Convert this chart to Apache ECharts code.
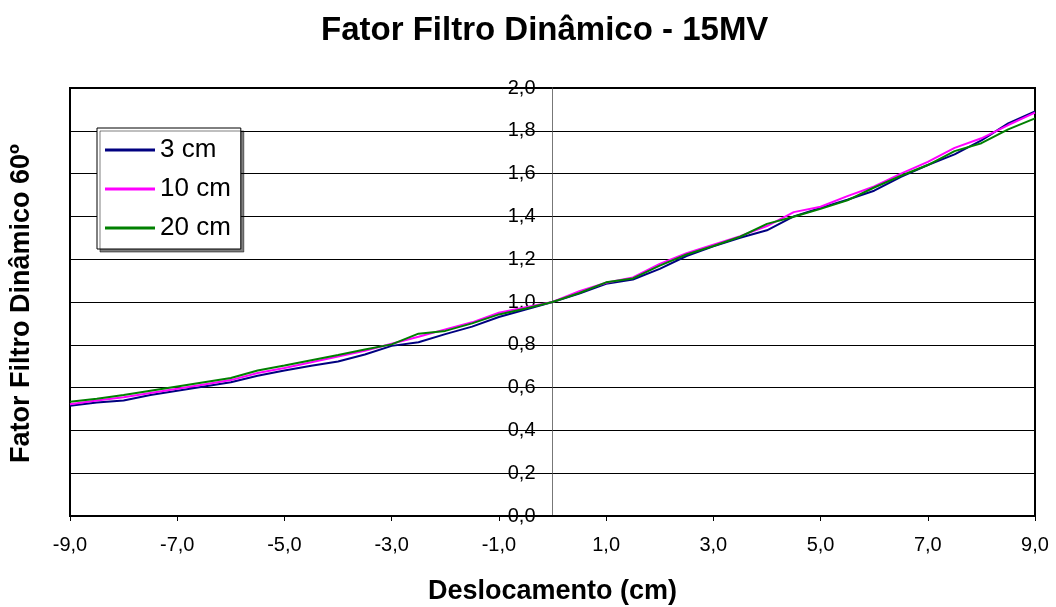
<!DOCTYPE html>
<html>
<head>
<meta charset="utf-8">
<script src="https://cdn.jsdelivr.net/npm/echarts@6/dist/echarts.min.js"></script>
<style>html,body{margin:0;padding:0;background:#fff}#c{width:1056px;height:607px}</style>
</head>
<body>
<div id="c"></div>
<script>
const xValues = [-9,-8.5,-8,-7.5,-7,-6.5,-6,-5.5,-5,-4.5,-4,-3.5,-3,-2.5,-2,-1.5,-1,-0.5,0,0.5,1,1.5,2,2.5,3,3.5,4,4.5,5,5.5,6,6.5,7,7.5,8,8.5,9];
const s3cm  = [0.515,0.530,0.540,0.565,0.585,0.605,0.625,0.655,0.680,0.702,0.722,0.755,0.795,0.812,0.850,0.885,0.930,0.965,1.000,1.040,1.085,1.105,1.155,1.215,1.260,1.300,1.335,1.400,1.440,1.478,1.520,1.585,1.640,1.690,1.755,1.835,1.890];
const s10cm = [0.522,0.540,0.555,0.575,0.595,0.615,0.635,0.668,0.692,0.718,0.745,0.772,0.805,0.838,0.872,0.905,0.950,0.975,1.000,1.050,1.090,1.115,1.178,1.228,1.268,1.308,1.355,1.420,1.445,1.495,1.540,1.600,1.655,1.720,1.765,1.827,1.885];
const s20cm = [0.534,0.548,0.565,0.585,0.605,0.625,0.645,0.680,0.703,0.728,0.752,0.778,0.802,0.852,0.865,0.900,0.942,0.970,1.000,1.042,1.092,1.110,1.170,1.222,1.262,1.305,1.365,1.398,1.435,1.475,1.535,1.590,1.640,1.705,1.742,1.807,1.858];
const seriesNames = ['3 cm','10 cm','20 cm'];
const seriesColors = ['#000080','#FF00FF','#008000'];
const titleText = 'Fator Filtro Dinâmico - 15MV';
const xName = 'Deslocamento (cm)';
const yName = 'Fator Filtro Dinâmico 60º';

const fmt = v => v.toFixed(1).replace('.', ',');
const pairs = arr => xValues.map((x, i) => [x, arr[i]]);
const all = [s3cm, s10cm, s20cm];

const gridLeft = 70, gridRight = 21, W = 1056;
const plotW = W - gridLeft - gridRight;
const yAxisOffset = -plotW * 9 / 18; // place y axis at x = 0

const chart = echarts.init(document.getElementById('c'), null, {renderer: 'canvas'});
chart.setOption({
  backgroundColor: '#fff',
  animation: false,
  title: {
    text: titleText, left: 316, top: 9,
    textStyle: {fontFamily: 'Arial, Liberation Sans', fontWeight: 'bold', fontSize: 33, color: '#000'}
  },
  graphic: [{
    type: 'text', left: 8, top: 'middle', rotation: Math.PI / 2,
    style: {text: yName, font: 'bold 27px Arial, "Liberation Sans"', fill: '#000'}
  }],
  legend: {
    orient: 'vertical', left: 97, top: 128,
    data: seriesNames.map(n => ({name: n, icon: 'rect'})),
    itemWidth: 50, itemHeight: 3, itemGap: 13,
    padding: [9, 10, 8, 8],
    backgroundColor: '#fff', borderColor: '#000', borderWidth: 1,
    shadowColor: 'rgba(0,0,0,0.5)', shadowOffsetX: 3, shadowOffsetY: 3, shadowBlur: 0,
    textStyle: {fontFamily: 'Arial, Liberation Sans', fontSize: 26, color: '#000', padding: [0,0,0,0]}
  },
  grid: {left: gridLeft, right: gridRight, top: 88, bottom: 91, show: true, borderColor: '#000', borderWidth: 2, backgroundColor: '#fff', outerBoundsMode: 'none', containLabel: false},
  xAxis: [{
    type: 'value', min: -9, max: 9, position: 'bottom',
    axisLine: {show: false}, axisTick: {show: false}, axisLabel: {show: false}, splitLine: {show: false}
  }, {
    type: 'value', min: 0, max: 18, interval: 2, position: 'bottom',
    axisLine: {show: true, onZero: false, lineStyle: {color: '#000', width: 2}},
    axisTick: {show: true, length: 5, lineStyle: {color: '#000'}},
    axisLabel: {formatter: v => fmt(v - 9), fontFamily: 'Arial, Liberation Sans', fontSize: 20, color: '#000', margin: 19},
    splitLine: {show: false},
    name: xName, nameLocation: 'middle', nameGap: 62,
    nameTextStyle: {fontFamily: 'Arial, Liberation Sans', fontWeight: 'bold', fontSize: 27, color: '#000'}
  }],
  yAxis: {
    type: 'value', min: 0, max: 2, interval: 0.2, position: 'left', offset: yAxisOffset,
    axisLine: {show: true, onZero: false, lineStyle: {color: '#777', width: 1}},
    axisTick: {show: true, length: 4, lineStyle: {color: '#000'}},
    axisLabel: {formatter: v => fmt(v), fontFamily: 'Arial, Liberation Sans', fontSize: 20, color: '#000', margin: 17},
    splitLine: {show: true, lineStyle: {color: '#000', width: 1}}
  },
  series: seriesNames.map((n, i) => ({
    name: n, type: 'line', xAxisIndex: 0, data: pairs(all[i]),
    showSymbol: false, symbol: 'none',
    lineStyle: {color: seriesColors[i], width: 2}, itemStyle: {color: seriesColors[i]}
  }))
});
</script>
</body>
</html>
